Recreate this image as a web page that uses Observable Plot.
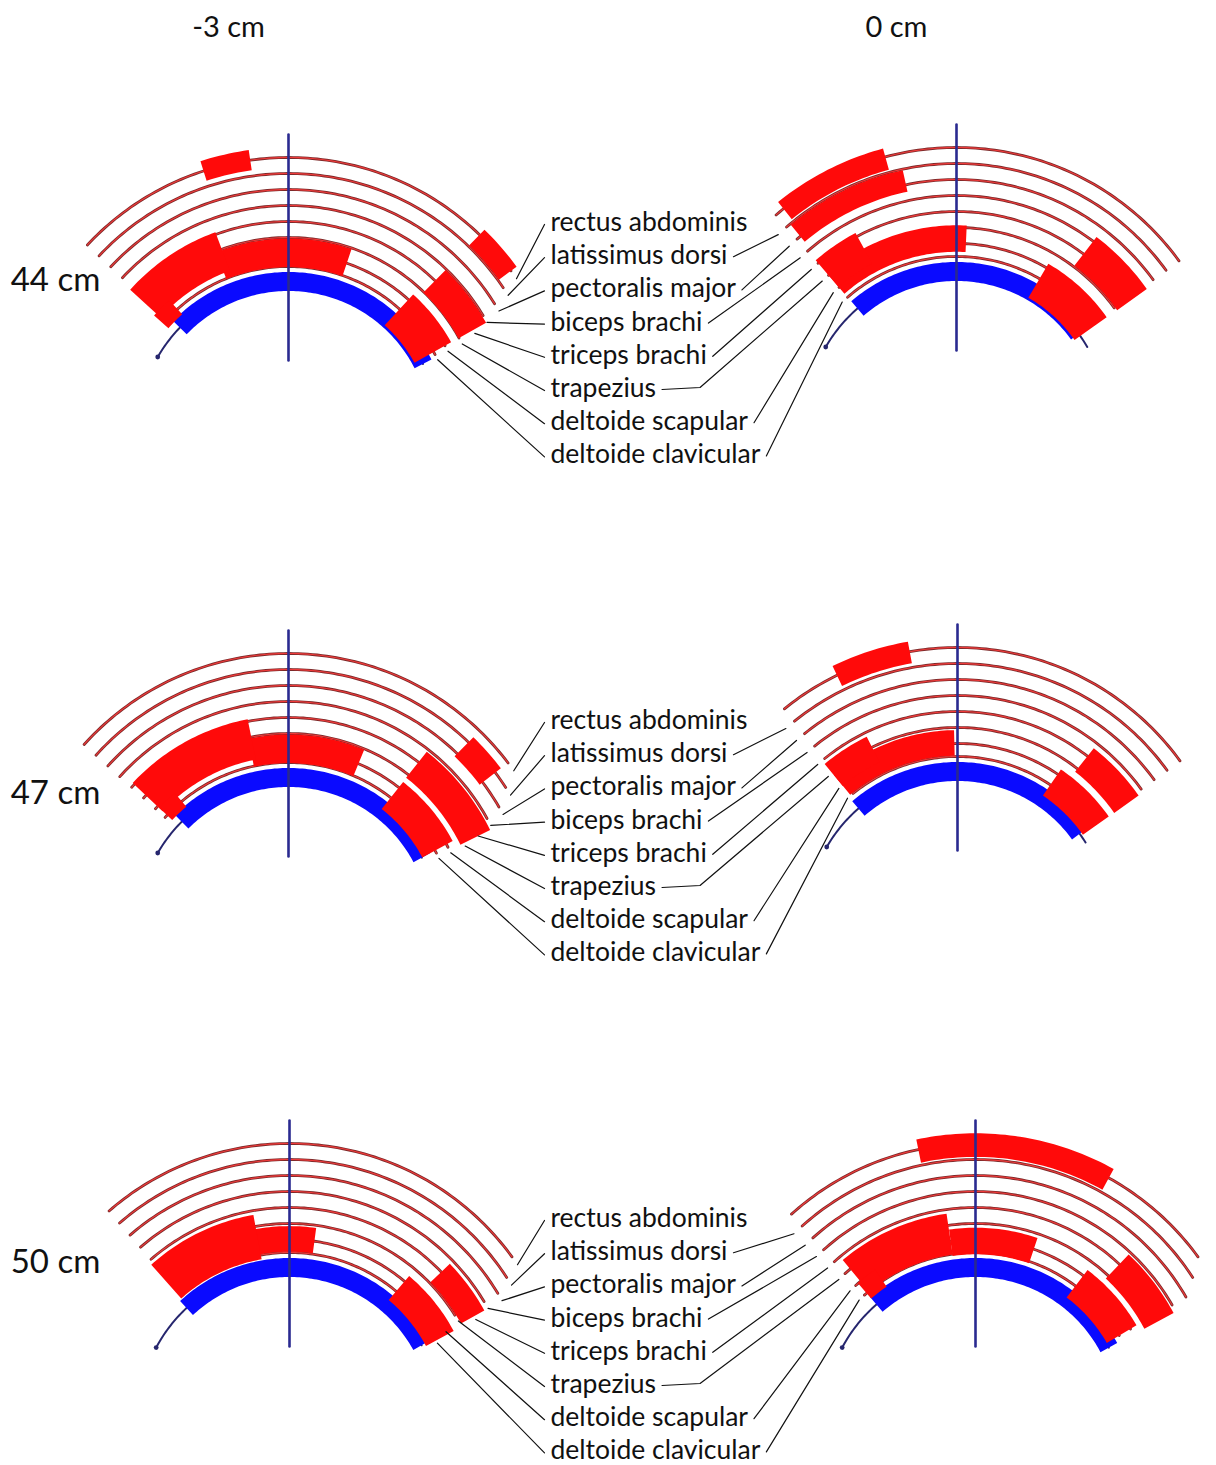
<!DOCTYPE html>
<html><head><meta charset="utf-8">
<script src="https://cdn.jsdelivr.net/npm/d3@7"></script>
<script src="https://cdn.jsdelivr.net/npm/@observablehq/plot@0.6"></script>
<style>body{margin:0;background:#fff}</style>
</head><body><div id="chart"></div>
<script>
// ---------------- DATA ----------------
const positions = ["-3 cm", "0 cm"];
const heights = ["44 cm", "47 cm", "50 cm"];
// label order, top to bottom = outermost ring (7) to innermost ring (0)
const muscles = ["rectus abdominis", "latissimus dorsi", "pectoralis major", "biceps brachi",
  "triceps brachi", "trapezius", "deltoide scapular", "deltoide clavicular"];

// arc extent of the 8 muscle rings: height, position, start angle, end angle per ring (inner -> outer)
const ringSpans = [
  ["44 cm", "-3 cm", -47, [62, 61, 61, 60, 59, 58, 56, 54]],
  ["44 cm", "0 cm", -41, [54, 54, 54, 54, 54, 54, 54, 54]],
  ["47 cm", "-3 cm", -48, [63, 63, 63, 62, 61, 60, 57, 53]],
  ["47 cm", "0 cm", -39, [54, 54, 54, 54, 54, 54, 54, 54]],
  ["50 cm", "-3 cm", -41, [61, 59, 58, 60, 59, 59, 57, 54]],
  ["50 cm", "0 cm", -42, [60, 60, 60, 60, 60, 60, 57, 54]]
];

// blue reference contour: height, position, thin start, band start, band end, thin end (degrees)
const blueBands = [
  ["44 cm", "-3 cm", -60, -46, 63, 63],
  ["44 cm", "0 cm", -60, -41, 54, 60],
  ["47 cm", "-3 cm", -60, -45, 62, 62],
  ["47 cm", "0 cm", -60, -41, 54, 58],
  ["50 cm", "-3 cm", -62, -43, 61, 61],
  ["50 cm", "0 cm", -62, -41, 62, 62]
];

// active zones: height, position, from ring, to ring (0 = deltoide clavicular ... 7 = rectus abdominis), from angle, to angle
const activity = [
  ["44 cm", "-3 cm", 6.8, 7.2, -18, -8],
  ["44 cm", "-3 cm", 0.5, 1.5, -22, 19],
  ["44 cm", "-3 cm", 1, 2.7, -48, -20],
  ["44 cm", "-3 cm", 0, 0.4, -49, -42],
  ["44 cm", "-3 cm", -1, 1, 42, 61],
  ["44 cm", "-3 cm", 2.4, 3.5, 44, 61],
  ["44 cm", "-3 cm", 6.5, 7, 44, 54],

  ["44 cm", "0 cm", 6.6, 7.1, -39, -15],
  ["44 cm", "0 cm", 5, 5.5, -40, -12],
  ["44 cm", "0 cm", 0.9, 1.7, -41, 3],
  ["44 cm", "0 cm", 1.5, 2.8, -41, -28],
  ["44 cm", "0 cm", -1, 0.8, 30, 55],
  ["44 cm", "0 cm", 2.5, 3.9, 37, 55],

  ["47 cm", "-3 cm", 0.5, 1.5, -12, 23],
  ["47 cm", "-3 cm", 1, 2.7, -47, -11],
  ["47 cm", "-3 cm", 0, 0.3, -47, -40],
  ["47 cm", "-3 cm", -0.5, 1, 38, 62],
  ["47 cm", "-3 cm", 2.2, 3.4, 38, 64],
  ["47 cm", "-3 cm", 5.2, 6, 44, 53],

  ["47 cm", "0 cm", 6.7, 7.2, -26, -10],
  ["47 cm", "0 cm", 0.6, 1.4, -40, -1],
  ["47 cm", "0 cm", 1.4, 2.3, -40, -26],
  ["47 cm", "0 cm", -0.4, 0.9, 34, 55],
  ["47 cm", "0 cm", 2.2, 3.2, 38, 55],

  ["50 cm", "-3 cm", 0.6, 1.4, -11, 8],
  ["50 cm", "-3 cm", 0.2, 2.3, -42, -10],
  ["50 cm", "-3 cm", -0.3, 1, 40, 62],
  ["50 cm", "-3 cm", 2.5, 3.3, 46, 61],

  ["50 cm", "0 cm", 6.6, 7.2, -12, 29],
  ["50 cm", "0 cm", 0.5, 2.3, -40, -8],
  ["50 cm", "0 cm", 0, 0.5, -41, -34],
  ["50 cm", "0 cm", 0.4, 1.3, -8, 19],
  ["50 cm", "0 cm", -0.5, 1, 37, 60],
  ["50 cm", "0 cm", 2.2, 3.4, 43, 62]
];

// ---------------- LAYOUT ----------------
const W = 1216, H = 1465;
const centers = {
  "44 cm|-3 cm": [288, 432], "44 cm|0 cm": [956, 422],
  "47 cm|-3 cm": [288, 928], "47 cm|0 cm": [957, 922],
  "50 cm|-3 cm": [289, 1418], "50 cm|0 cm": [975, 1418]
};
const ringR = [166, 179, 195, 211, 227, 243, 259, 275];
const blueR = 151;
const halfThick = 7;
const labelX = 550, labelTop = {"44 cm": 222, "47 cm": 720, "50 cm": 1218}, labelStep = 33.2;
const rowLabelY = {"44 cm": 280, "47 cm": 793, "50 cm": 1262};
const FONT = "Lato";
const LABEL_SIZE = 26.5;

const key = (h, p) => h + "|" + p;
function rad(p) {
  if (p <= 0) return ringR[0] + p * 15;
  if (p >= 7) return ringR[7] + (p - 7) * 16;
  const i = Math.floor(p), f = p - i;
  return ringR[i] + (ringR[i + 1] - ringR[i]) * f;
}
function pt(c, r, a) {
  const t = a * Math.PI / 180;
  return {x: c[0] + r * Math.sin(t), y: c[1] - r * Math.cos(t)};
}
function arc(c, r, a0, a1, extra) {
  const n = Math.max(2, Math.ceil(Math.abs(a1 - a0)) + 1);
  return d3.range(n).map(i => ({...pt(c, r, a0 + (a1 - a0) * i / (n - 1)), ...extra}));
}

// rings
const ringPts = [];
ringSpans.forEach(([h, p, s, ends]) => {
  const c = centers[key(h, p)];
  ends.forEach((e, k) => ringPts.push(...arc(c, ringR[k], s, e, {id: key(h, p) + k})));
});
// blue
const blueThin = [], blueBand = [], blueDots = [];
blueBands.forEach(([h, p, t0, b0, b1, t1]) => {
  const c = centers[key(h, p)];
  blueThin.push(...arc(c, blueR, t0, t1, {id: key(h, p)}));
  blueBand.push(...arc(c, blueR, b0, b1, {id: key(h, p)}));
  blueDots.push(pt(c, blueR, t0));
});
// active zones
const zonePts = [];
activity.forEach(([h, p, r0, r1, a0, a1], i) => {
  const c = centers[key(h, p)];
  const inner = rad(r0) - halfThick, outer = rad(r1) + halfThick;
  zonePts.push(...arc(c, (inner + outer) / 2, a0, a1, {id: i, w: outer - inner}));
});
// vertical axis lines
const axisPts = [];
Object.entries(centers).forEach(([k, c]) => {
  axisPts.push({...pt(c, 298, 0), id: k}, {...pt(c, 72, 0), id: k});
});

// labels and leader lines
const ctx = document.createElement("canvas").getContext("2d");
ctx.font = `${LABEL_SIZE}px ${FONT}`;
const labels = [], leaders = [];
heights.forEach(h => {
  const cL = centers[key(h, positions[0])], cR = centers[key(h, positions[1])];
  const spanL = ringSpans.find(d => d[0] === h && d[1] === positions[0]);
  const spanR = ringSpans.find(d => d[0] === h && d[1] === positions[1]);
  muscles.forEach((m, i) => {
    const y = labelTop[h] + i * labelStep;
    const k = 7 - i;
    labels.push({x: labelX, y, text: m});
    const eL = pt(cL, ringR[k], spanL[3][k] + 2);
    leaders.push({x: labelX - 6, y: y + 2, id: h + "L" + i}, {x: eL.x, y: eL.y, id: h + "L" + i});
    if (i > 0) {
      const x0 = labelX + ctx.measureText(m).width + 6;
      const eR = pt(cR, ringR[k], spanR[2] - 2.5);
      leaders.push({x: x0, y: y + 1, id: h + "R" + i});
      if (m === "trapezius") leaders.push({x: x0 + 38, y: y - 1, id: h + "R" + i});
      leaders.push({x: eR.x, y: eR.y, id: h + "R" + i});
    }
  });
});
const colTitles = positions.map(p => ({x: centers[key(heights[0], p)][0] - 60, y: 27, text: p}));
const rowTitles = heights.map(h => ({x: 55, y: rowLabelY[h], text: h}));

const chart = Plot.plot({
  width: W, height: H, margin: 0,
  style: {background: "#fff"},
  x: {domain: [0, W], range: [0, W], axis: null},
  y: {domain: [0, H], range: [0, H], axis: null},
  marks: [
    Plot.line(ringPts, {x: "x", y: "y", z: "id", stroke: "#7d2a2a", strokeWidth: 2.8}),
    Plot.line(ringPts, {x: "x", y: "y", z: "id", stroke: "#f03a3a", strokeWidth: 1.1}),
    Plot.line(blueThin, {x: "x", y: "y", z: "id", stroke: "#26266e", strokeWidth: 2}),
    Plot.dot(blueDots, {x: "x", y: "y", r: 2.4, fill: "#26266e", stroke: "none"}),
    Plot.line(blueBand, {x: "x", y: "y", z: "id", stroke: "#0a0aff", strokeWidth: 19, strokeLinecap: "butt"}),
    Plot.line(zonePts, {x: "x", y: "y", z: "id", stroke: "#ff0a0a", strokeWidth: "w", strokeLinecap: "butt", strokeLinejoin: "round"}),
    Plot.line(axisPts, {x: "x", y: "y", z: "id", stroke: "#2a2a90", strokeWidth: 2.6}),
    Plot.line(leaders, {x: "x", y: "y", z: "id", stroke: "#111", strokeWidth: 1.2}),
    Plot.text(labels, {x: "x", y: "y", text: "text", textAnchor: "start", fontSize: LABEL_SIZE, fontFamily: FONT, fill: "#111"}),
    Plot.text(colTitles, {x: "x", y: "y", text: "text", fontSize: 29, fontFamily: FONT, fill: "#111"}),
    Plot.text(rowTitles, {x: "x", y: "y", text: "text", fontSize: 33, fontFamily: FONT, fill: "#111"})
  ]
});
document.getElementById("chart").appendChild(chart);
</script>
</body></html>
